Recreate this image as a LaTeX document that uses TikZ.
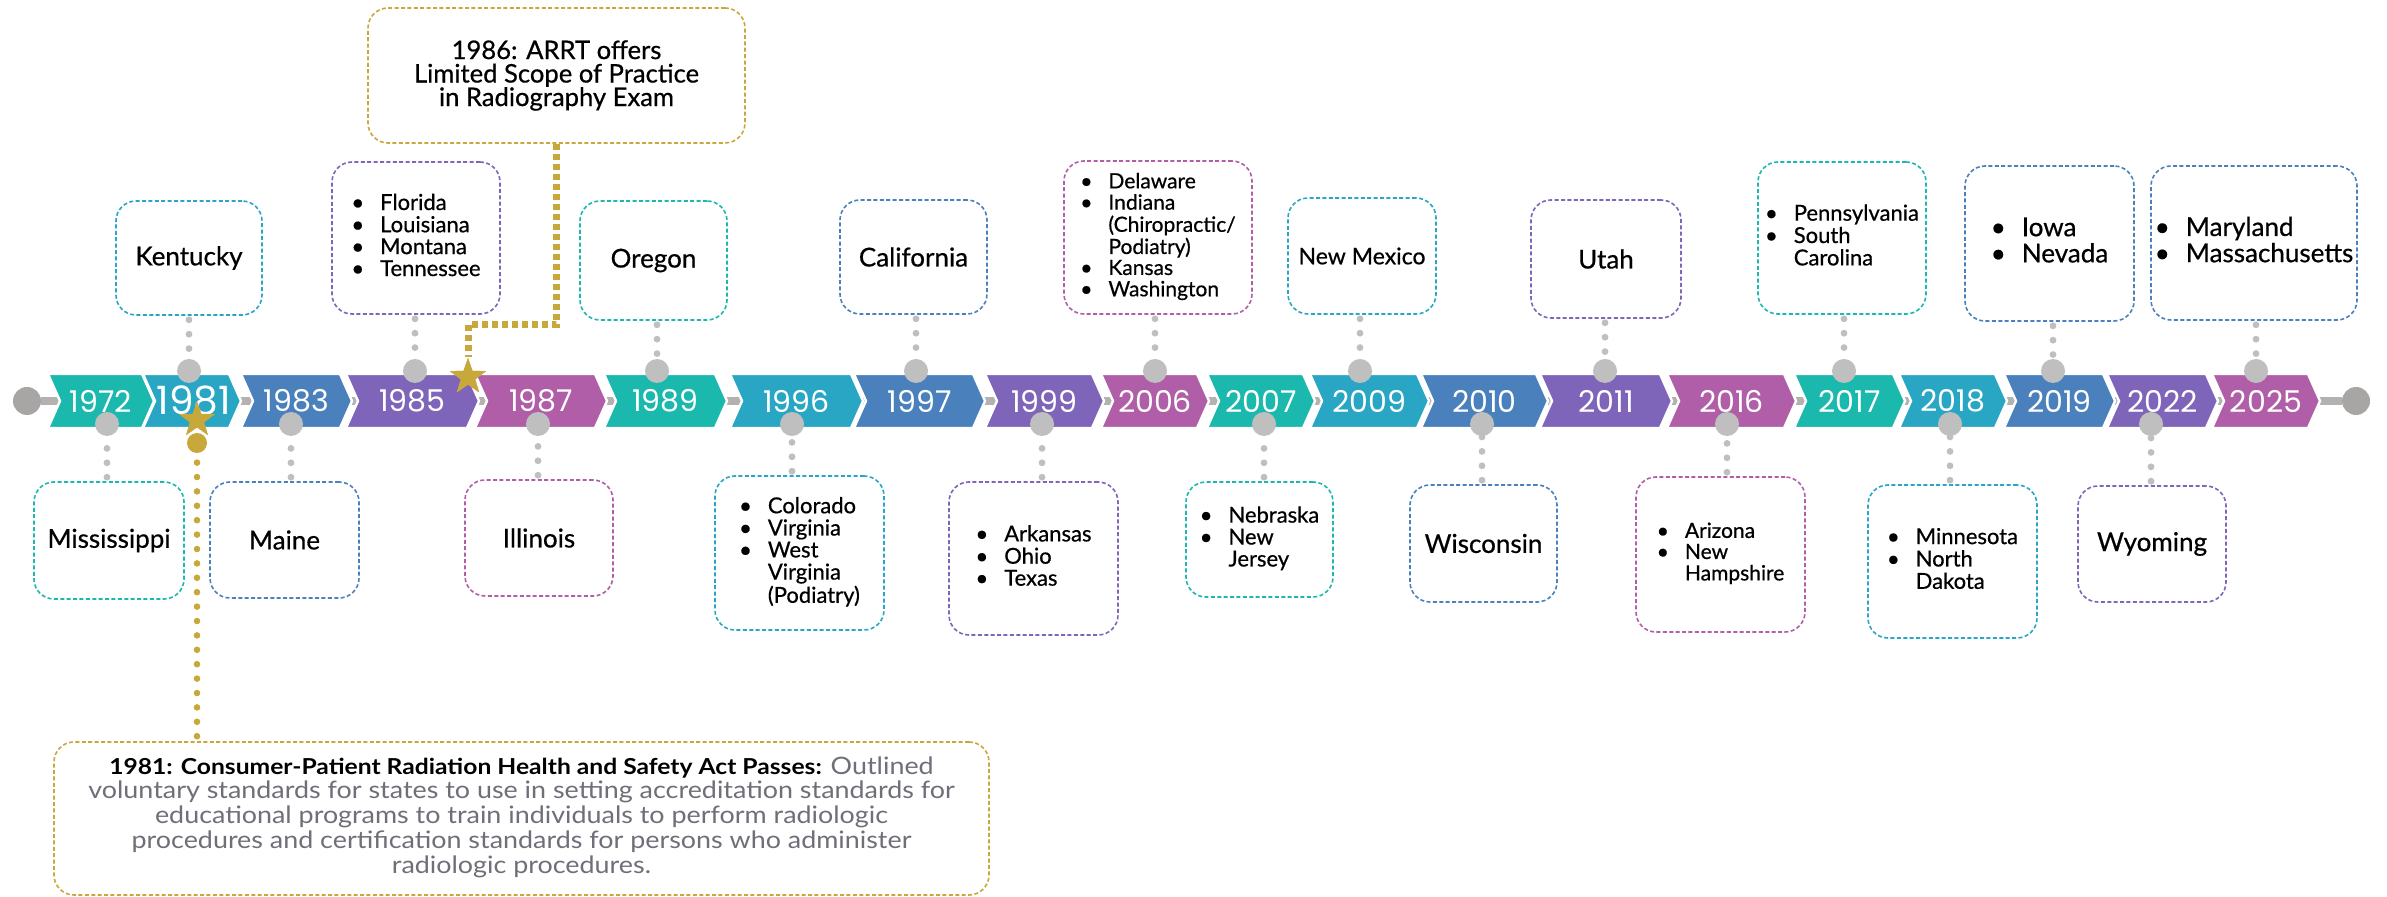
\documentclass[tikz,border=0pt]{standalone}
\usepackage{fontspec}
\setmainfont{Lato}
\newfontfamily\statefont{Lato}[FakeBold=0.6]
\newfontfamily\yearfont{Poppins}
\usepackage{xcolor}
\usepackage{graphicx}
\usetikzlibrary{positioning,shapes.geometric}

\definecolor{cteal}{HTML}{1BB8AE}
\definecolor{ccyan}{HTML}{28A6C3}
\definecolor{cblue}{HTML}{4A81BD}
\definecolor{cpurple}{HTML}{7F65B9}
\definecolor{cmagenta}{HTML}{B05EA7}
\definecolor{cgold}{HTML}{C9A83B}
\definecolor{knobgray}{HTML}{BFBFBF}
\definecolor{endgray}{HTML}{A8A5A5}
\definecolor{bargray}{HTML}{B4B1B1}
\definecolor{acttext}{HTML}{6E6F78}

\newcommand{\itm}{\textbullet}
\newcommand{\stlist}[1]{\begin{tabular}{@{}l@{\hspace{8pt}}l@{}}#1\end{tabular}}
\newcommand{\widetext}[1]{\scalebox{1.12}[1]{\begin{tabular}{@{}c@{}}#1\end{tabular}}}

\begin{document}
\begin{tikzpicture}[
  x=0.5pt, y=-0.5pt,
  chev/.style={draw=white, line width=1.2pt, line join=miter},
  yr/.style={text=white, font=\yearfont\fontsize{15}{15}\selectfont, inner sep=0},
  stbox/.style={draw=#1, dash pattern=on 2pt off 1.2pt, line width=0.8pt,
    rounded corners=10pt, fill=white, inner sep=0, align=center,
    font=\statefont\fontsize{13}{13}\selectfont},
  listtxt/.style={font=\statefont\fontsize{11}{10.25}\selectfont},
  knob/.style={circle, fill=knobgray, inner sep=0, minimum size=12pt},
  endknob/.style={circle, fill=endgray, inner sep=0, minimum size=14pt},
  dotline/.style={draw=knobgray, line width=3.4pt, line cap=round,
    dash pattern=on 0pt off 7.2pt, shorten <=2pt},
  golddash/.style={draw=cgold, line width=3.5pt, dash pattern=on 3pt off 2pt},
  golddots/.style={draw=cgold, line width=3.3pt, line cap=round,
    dash pattern=on 0pt off 7.2pt, shorten <=2.5pt},
  goldstar/.style={star, star points=5, star point ratio=2.5, fill=cgold,
    inner sep=0, minimum size=19pt},
  goldknob/.style={circle, fill=cgold, inner sep=0, minimum size=10pt},
  actbox/.style={draw=cgold, dash pattern=on 2pt off 1.2pt, line width=0.8pt,
    rounded corners=10pt, fill=white, inner sep=0, align=center, text=acttext,
    font=\fontsize{12}{11.85}\selectfont},
]
\fill[white] (0,0) rectangle (2387,897);
\useasboundingbox (0,0) rectangle (2387,897);

% Bar and end points
\node[endknob] (tstart) at (27,401) {};
\node[endknob] (tend) at (2356,401) {};
\draw[bargray, line width=4pt] (tstart) -- (tend);

% Year chevrons
\filldraw[chev, fill=cteal] (48,374) -- (142,374) -- (154,401) -- (142,428) -- (48,428) -- (60,401) -- cycle;
\node[yr] (y1972) at (101,401) {1972};
\filldraw[chev, fill=ccyan] (143,374) -- (229,374) -- (241,401) -- (229,428) -- (143,428) -- (155,401) -- cycle;
\node[yr, font=\yearfont\fontsize{19.5}{19.5}\selectfont] (y1981) at (194,401) {1981};
\filldraw[chev, fill=cblue] (241,374) -- (340,374) -- (352,401) -- (340,428) -- (241,428) -- (253,401) -- cycle;
\node[yr] (y1983) at (296.5,401) {1983};
\filldraw[chev, fill=cpurple] (346,374) -- (467,374) -- (479,401) -- (467,428) -- (346,428) -- (358,401) -- cycle;
\node[yr] (y1985) at (412.5,401) {1985};
\filldraw[chev, fill=cmagenta] (475,374) -- (595,374) -- (607,401) -- (595,428) -- (475,428) -- (487,401) -- cycle;
\node[yr] (y1987) at (541,401) {1987};
\filldraw[chev, fill=cteal] (604,374) -- (715,374) -- (727,401) -- (715,428) -- (604,428) -- (616,401) -- cycle;
\node[yr] (y1989) at (665.5,401) {1989};
\filldraw[chev, fill=ccyan] (730,374) -- (851,374) -- (863,401) -- (851,428) -- (730,428) -- (742,401) -- cycle;
\node[yr] (y1996) at (796.5,401) {1996};
\filldraw[chev, fill=cblue] (854,374) -- (973,374) -- (985,401) -- (973,428) -- (854,428) -- (866,401) -- cycle;
\node[yr] (y1997) at (919.5,401) {1997};
\filldraw[chev, fill=cpurple] (985,374) -- (1092,374) -- (1104,401) -- (1092,428) -- (985,428) -- (997,401) -- cycle;
\node[yr] (y1999) at (1044.5,401) {1999};
\filldraw[chev, fill=cmagenta] (1101,374) -- (1197,374) -- (1209,401) -- (1197,428) -- (1101,428) -- (1113,401) -- cycle;
\node[yr] (y2006) at (1155,401) {2006};
\filldraw[chev, fill=cteal] (1207,374) -- (1303,374) -- (1315,401) -- (1303,428) -- (1207,428) -- (1219,401) -- cycle;
\node[yr] (y2007) at (1261,401) {2007};
\filldraw[chev, fill=ccyan] (1310,374) -- (1417,374) -- (1429,401) -- (1417,428) -- (1310,428) -- (1322,401) -- cycle;
\node[yr] (y2009) at (1369.5,401) {2009};
\filldraw[chev, fill=cblue] (1421,374) -- (1536,374) -- (1548,401) -- (1536,428) -- (1421,428) -- (1433,401) -- cycle;
\node[yr] (y2010) at (1484.5,401) {2010};
\filldraw[chev, fill=cpurple] (1540,374) -- (1660,374) -- (1672,401) -- (1660,428) -- (1540,428) -- (1552,401) -- cycle;
\node[yr] (y2011) at (1606,401) {2011};
\filldraw[chev, fill=cmagenta] (1667,374) -- (1784,374) -- (1796,401) -- (1784,428) -- (1667,428) -- (1679,401) -- cycle;
\node[yr] (y2016) at (1731.5,401) {2016};
\filldraw[chev, fill=cteal] (1794,374) -- (1893,374) -- (1905,401) -- (1893,428) -- (1794,428) -- (1806,401) -- cycle;
\node[yr] (y2017) at (1849.5,401) {2017};
\filldraw[chev, fill=ccyan] (1899,374) -- (1995,374) -- (2007,401) -- (1995,428) -- (1899,428) -- (1911,401) -- cycle;
\node[yr] (y2018) at (1953,401) {2018};
\filldraw[chev, fill=cblue] (2004,374) -- (2103,374) -- (2115,401) -- (2103,428) -- (2004,428) -- (2016,401) -- cycle;
\node[yr] (y2019) at (2059.5,401) {2019};
\filldraw[chev, fill=cpurple] (2107,374) -- (2206,374) -- (2218,401) -- (2206,428) -- (2107,428) -- (2119,401) -- cycle;
\node[yr] (y2022) at (2162.5,401) {2022};
\filldraw[chev, fill=cmagenta] (2212,374) -- (2308,374) -- (2320,401) -- (2308,428) -- (2212,428) -- (2224,401) -- cycle;
\node[yr] (y2025) at (2266,401) {2025};

% States above the line
\node[stbox=ccyan, minimum width=73pt, minimum height=57pt] (kentucky) at (189,258) {Kentucky};
\node[stbox=cpurple, listtxt, minimum width=84pt, minimum height=76pt] (florida) at (416,238)
  {\stlist{\itm & Florida\\ \itm & Louisiana\\ \itm & Montana\\ \itm & Tennessee}};
\node[stbox=cteal, minimum width=73.5pt, minimum height=59.5pt] (oregon) at (653.5,260.5) {Oregon};
\node[stbox=cblue, minimum width=73.5pt, minimum height=57pt] (california) at (913.5,257) {California};
\node[stbox=cmagenta, font=\statefont\fontsize{10.5}{9.8}\selectfont, minimum width=94pt, minimum height=76.5pt] (delaware) at (1158,237.5)
  {\stlist{\itm & Delaware\\ \itm & Indiana\\ & (Chiropractic/\\ & Podiatry)\\ \itm & Kansas\\ \itm & Washington}};
\node[stbox=ccyan, font=\statefont\fontsize{11.5}{11.5}\selectfont, minimum width=74pt, minimum height=58pt] (newmexico) at (1362,256) {New Mexico};
\node[stbox=cpurple, minimum width=75pt, minimum height=59pt] (utah) at (1606,259) {Utah};
\node[stbox=cteal, listtxt, minimum width=84pt, minimum height=76pt] (penn) at (1842,238)
  {\stlist{\itm & Pennsylvania\\ \itm & South\\ & Carolina}};
\node[stbox=cblue, font=\statefont\fontsize{13}{11.75}\selectfont, minimum width=84.5pt, minimum height=77.5pt] (iowa) at (2049.5,243.5)
  {\stlist{\itm & Iowa\\ \itm & Nevada}};
\node[stbox=cblue, font=\statefont\fontsize{13}{11.75}\selectfont, minimum width=103pt, minimum height=77pt] (maryland) at (2254,243)
  {\stlist{\itm & Maryland\\ \itm & Massachusetts}};

% States below the line
\node[stbox=cteal, minimum width=75pt, minimum height=58.5pt] (mississippi) at (109,540.5) {Mississippi};
\node[stbox=cblue, minimum width=74.5pt, minimum height=58pt] (maine) at (284.5,540) {Maine};
\node[stbox=cmagenta, minimum width=74pt, minimum height=58pt] (illinois) at (539,538) {Illinois};
\node[stbox=ccyan, listtxt, minimum width=84.5pt, minimum height=77pt] (colorado) at (799.5,553)
  {\stlist{\itm & Colorado\\ \itm & Virginia\\ \itm & West\\ & Virginia\\ & (Podiatry)}};
\node[stbox=cpurple, listtxt, minimum width=84.5pt, minimum height=76.5pt] (arkansas) at (1033.5,558.5)
  {\stlist{\itm & Arkansas\\ \itm & Ohio\\ \itm & Texas}};
\node[stbox=cteal, listtxt, minimum width=73.5pt, minimum height=57.5pt] (nebraska) at (1259.5,539.5)
  {\stlist{\itm & Nebraska\\ \itm & New\\ & Jersey}};
\node[stbox=cblue, minimum width=73.5pt, minimum height=58.5pt] (wisconsin) at (1483.5,543.5) {Wisconsin};
\node[stbox=cmagenta, font=\statefont\fontsize{10.5}{10}\selectfont, minimum width=84.5pt, minimum height=77.5pt] (arizona) at (1720.5,554.5)
  {\stlist{\itm & Arizona\\ \itm & New\\ & Hampshire}};
\node[stbox=ccyan, listtxt, minimum width=84.5pt, minimum height=76.5pt] (minnesota) at (1952.5,561.5)
  {\stlist{\itm & Minnesota\\ \itm & North\\ & Dakota}};
\node[stbox=cpurple, minimum width=74pt, minimum height=58pt] (wyoming) at (2152,544) {Wyoming};

% Knobs and dotted links, top
\node[knob] (k1981) at (189,371) {};
\draw[dotline] (kentucky.south -| k1981) -- (k1981);
\node[knob] (k1985) at (415,371) {};
\draw[dotline] (florida.south -| k1985) -- (k1985);
\node[knob] (k1989) at (657,371) {};
\draw[dotline] (oregon.south -| k1989) -- (k1989);
\node[knob] (k1997) at (916,371) {};
\draw[dotline] (california.south -| k1997) -- (k1997);
\node[knob] (k2006) at (1155,371) {};
\draw[dotline] (delaware.south -| k2006) -- (k2006);
\node[knob] (k2009) at (1360,371) {};
\draw[dotline] (newmexico.south -| k2009) -- (k2009);
\node[knob] (k2011) at (1605,371) {};
\draw[dotline] (utah.south -| k2011) -- (k2011);
\node[knob] (k2017) at (1844,371) {};
\draw[dotline] (penn.south -| k2017) -- (k2017);
\node[knob] (k2019) at (2053,371) {};
\draw[dotline] (iowa.south -| k2019) -- (k2019);
\node[knob] (k2025) at (2256,371) {};
\draw[dotline] (maryland.south -| k2025) -- (k2025);

% Knobs and dotted links, bottom
\node[knob] (k1972) at (107,424) {};
\draw[dotline] (mississippi.north -| k1972) -- (k1972);
\node[knob] (k1983) at (291,424) {};
\draw[dotline] (maine.north -| k1983) -- (k1983);
\node[knob] (k1987) at (538,424) {};
\draw[dotline] (illinois.north -| k1987) -- (k1987);
\node[knob] (k1996) at (792,424) {};
\draw[dotline] (colorado.north -| k1996) -- (k1996);
\node[knob] (k1999) at (1042,424) {};
\draw[dotline] (arkansas.north -| k1999) -- (k1999);
\node[knob] (k2007) at (1264,424) {};
\draw[dotline] (nebraska.north -| k2007) -- (k2007);
\node[knob] (k2010) at (1482,424) {};
\draw[dotline] (wisconsin.north -| k2010) -- (k2010);
\node[knob] (k2016) at (1727,424) {};
\draw[dotline] (arizona.north -| k2016) -- (k2016);
\node[knob] (k2018) at (1950,424) {};
\draw[dotline] (minnesota.north -| k2018) -- (k2018);
\node[knob] (k2022) at (2151,424) {};
\draw[dotline] (wyoming.north -| k2022) -- (k2022);

% 1986 milestone
\node[stbox=cgold, font=\statefont\fontsize{12.8}{11.75}\selectfont, minimum width=188.5pt, minimum height=67.5pt] (arrt) at (556.5,75.5)
  {1986: ARRT offers\\ Limited Scope of Practice\\ in Radiography Exam};
\node[goldstar] (s1986) at (468,377) {};
\coordinate (turn1986) at (468,325);
\draw[golddash] (arrt.south) |- (turn1986) -- (s1986);
\node[goldstar] at (s1986) {};

% 1981 milestone
\node[actbox, minimum width=467.5pt, minimum height=76.5pt] (act1981) at (521.5,818.5)
  {\widetext{{\color{black}\bfseries\fontsize{11}{11.85}\selectfont 1981: Consumer-Patient Radiation Health and Safety Act Passes:} Outlined\\
   voluntary standards for states to use in setting accreditation standards for\\
   educational programs to train individuals to perform radiologic\\
   procedures and certification standards for persons who administer\\
   radiologic procedures.}};
\node[goldstar] (s1981) at (197,420) {};
\node[goldknob] (g1981) at (197,443) {};
\draw[golddots] (act1981.north -| g1981) -- (g1981);

\end{tikzpicture}
\end{document}
